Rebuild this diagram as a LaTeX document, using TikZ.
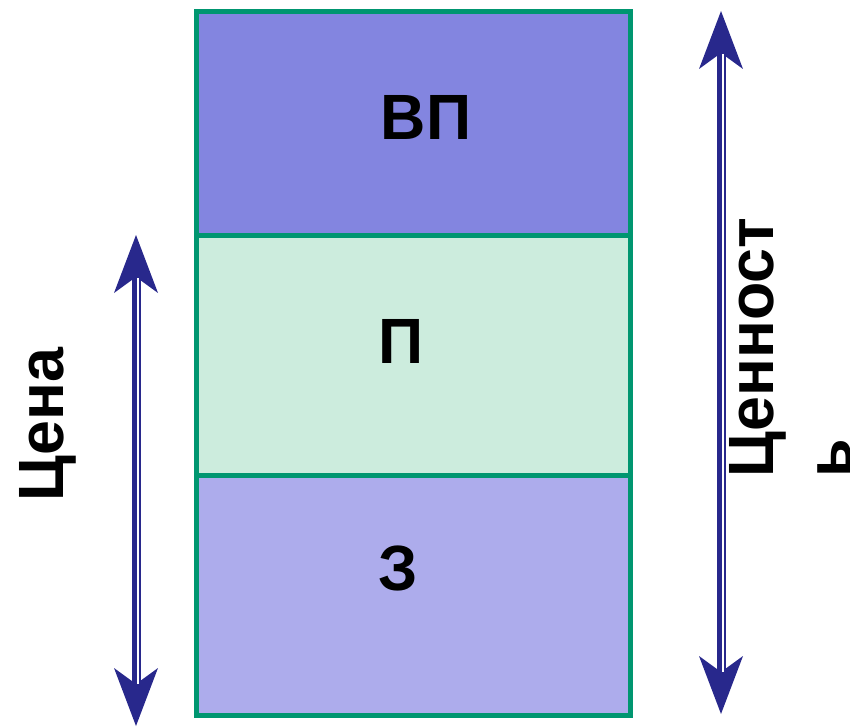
\documentclass[tikz,border=0pt]{standalone}
\usepackage{fontspec}
\newfontfamily\lab{Liberation Sans}[FakeStretch=0.98]
\usetikzlibrary{arrows.meta,calc}
\definecolor{boxline}{RGB}{0,150,112}
\definecolor{topfill}{RGB}{131,133,224}
\definecolor{midfill}{RGB}{204,236,221}
\definecolor{botfill}{RGB}{173,172,236}
\definecolor{navy}{RGB}{40,40,140}
\begin{document}
\begin{tikzpicture}[x=1pt,y=-1pt,
  box/.style={draw=boxline, line width=5pt},
  lbl/.style={font=\lab\bfseries\fontsize{64}{78}\selectfont, inner sep=0pt},
  dblarrow/.style={draw=navy, line width=9pt,
    {Stealth[length=58pt,width=44pt,inset=16pt,line width=0pt]}-{Stealth[length=58pt,width=44pt,inset=16pt,line width=0pt]}},
  stripe/.style={draw=white, line width=2pt}]
\useasboundingbox (0,0) rectangle (850,727);
% boxes
\fill[topfill] (196,11.5) rectangle (630.5,235.5);
\fill[midfill] (196,235.5) rectangle (630.5,475);
\fill[botfill] (196,475) rectangle (630.5,715);
\draw[box] (196,11.5) rectangle (630.5,715);
\draw[box] (196,235.5) -- (630.5,235.5);
\draw[box] (196,475) -- (630.5,475);
% labels
\node[lbl] (vp) at (426,117) {ВП};
\node[lbl] (p) at (401,341) {П};
\node[lbl] (z) at (398,568) {З};
\node[lbl, rotate=90, anchor=base west] (price) at (63,502) {Цена};
\node[lbl, rotate=90, align=left, anchor=north west] (value) at (729,478) {Ценност\\ь};
% arrows
\coordinate (la1) at (136,235);
\coordinate (la2) at (136,726);
\coordinate (ra1) at (721,11);
\coordinate (ra2) at (721,714);
\draw[dblarrow] (la1) -- (la2);
\draw[stripe] ($(la1)+(1.7,43)$) -- ($(la2)+(1.7,-42)$);
\draw[dblarrow] (ra1) -- (ra2);
\draw[stripe] ($(ra1)+(1.7,43)$) -- ($(ra2)+(1.7,-42)$);
\end{tikzpicture}
\end{document}
